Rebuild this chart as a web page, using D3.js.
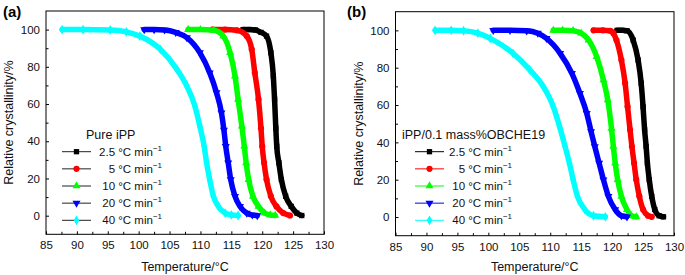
<!DOCTYPE html>
<html><head><meta charset="utf-8">
<script src="https://cdn.jsdelivr.net/npm/d3@7"></script>
<style>
body{margin:0;background:#fff;}
svg{display:block;font-family:"Liberation Sans",Arial,Helvetica,sans-serif;}
</style></head>
<body><svg id="c" width="685" height="275"></svg>
<script>
// ---- data (Temperature °C, relative crystallinity %) ----
const rates = ["2.5", "5", "10", "20", "40"];
const colors = ["#000000", "#ff0000", "#00ff00", "#0000ff", "#00ffff"];
const symbols = ["square", "circle", "triangle", "triangleDown", "diamond"];
const xTicks = [85, 90, 95, 100, 105, 110, 115, 120, 125, 130];
const yTicks = [0, 20, 40, 60, 80, 100];

const pure_2_5 = [[116.9,100],[118.0,100],[118.9,99.8],[119.8,98.5],[120.7,96.5],[121.4,87.6],[121.8,75.0],[122.0,62.5],[122.2,47],[122.35,37.3],[122.7,28.4],[123.1,19.4],[123.8,10.4],[124.7,5.0],[125.6,1.4],[126.4,0.1]];
const pure_5   = [[111.9,100],[114.0,100],[115.9,99.6],[117.5,96.5],[118.3,89.4],[118.8,76.8],[119.4,62.5],[119.8,47],[120.0,37.3],[120.3,28.4],[120.7,19.4],[121.4,10.4],[122.3,5.0],[123.4,1.4],[124.5,0.1]];
const pure_10  = [[108.0,100],[110.0,100],[112.2,99.6],[113.7,96.5],[114.8,87.6],[115.6,75.0],[116.1,62.5],[116.7,48.1],[117.1,37.3],[117.4,28.4],[117.8,19.4],[118.5,10.4],[119.4,5.0],[120.4,1.4],[121.3,0.4],[122.1,0.1]];
const pure_20  = [[100.9,100],[102.5,100],[104.2,99.8],[106.0,98.5],[107.8,95.7],[109.9,87.6],[111.5,76.8],[112.6,66.1],[113.4,55.3],[113.8,46],[114.1,37.3],[114.5,28.4],[114.9,19.4],[115.6,10.4],[116.4,5.0],[117.5,1.4],[118.4,0.4],[119.2,0.1]];
const pure_40  = [[87.6,100],[91.0,100],[95.4,99.8],[98.0,98.8],[100.2,96.5],[103.5,89.4],[106.2,78.6],[107.8,69.6],[109.1,58.9],[109.9,48.1],[110.6,37.3],[111.0,28.4],[111.5,19.4],[112.1,10.4],[112.9,5.0],[114.0,1.4],[115.0,0.4],[116.1,0.1]];

const obc_2_5 = [[120.8,100],[121.6,100],[122.4,99.8],[123.4,94.8],[124.2,84.1],[124.7,71.7],[125.0,59.1],[125.25,46.7],[125.5,37.8],[125.7,28.9],[126.0,20.0],[126.4,11.1],[126.9,4.0],[127.6,0.7],[128.3,0.1]];
const obc_5   = [[117.0,100],[118.5,100],[119.7,99.8],[120.2,98.5],[120.7,94.8],[121.5,84.1],[122.1,71.7],[122.5,59.1],[122.9,46.7],[123.2,37.8],[123.55,28.9],[123.9,20.0],[124.4,11.1],[125.0,4.0],[125.8,0.7],[126.4,0.1]];
const obc_10  = [[110.5,100],[112.0,100],[113.7,99.8],[115.0,98.5],[116.2,94.8],[117.5,85.9],[118.6,73.4],[119.3,62.7],[119.9,47.5],[120.2,37.8],[120.5,28.9],[120.9,20.0],[121.5,11.1],[122.4,4.0],[123.1,0.7],[123.9,0.1]];
const obc_20  = [[100.8,100],[103.5,100],[106.2,99.8],[108.0,98.5],[109.4,95.7],[111.6,87.7],[113.5,77.0],[114.8,66.3],[115.9,55.6],[116.6,45.8],[117.2,37.8],[117.9,28.9],[118.6,20.0],[119.4,11.1],[120.5,4.0],[121.5,0.7],[122.4,0.1]];
const obc_40  = [[91.4,100],[94.0,100],[96.0,99.8],[98.3,98.5],[100.3,95.7],[104.0,87.7],[106.7,78.8],[108.9,69.8],[110.5,59.1],[111.6,47.5],[112.4,37.8],[113.1,28.9],[113.7,20.0],[114.4,11.1],[115.6,4.0],[117.0,0.7],[118.9,0.1]];

const panels = [
  {tag:"(a)", title:"Pure iPP", series:[pure_2_5,pure_5,pure_10,pure_20,pure_40],
   box:{l:46,r:324,t:11,b:234.3}, tagX:3, legX:62, legTitleX:86, legTextX:162, legLineColored:false},
  {tag:"(b)", title:"iPP/0.1 mass%OBCHE19", series:[obc_2_5,obc_5,obc_10,obc_20,obc_40],
   box:{l:395.5,r:674,t:11.7,b:235.7}, tagX:347, legX:415, legTitleX:402, legTextX:512, legLineColored:true}
];

const svg = d3.select("#c");
const symMap = {square:d3.symbolSquare, circle:d3.symbolCircle, triangle:d3.symbolTriangle, triangleDown:d3.symbolTriangle, diamond:d3.symbolDiamond};
const symSize = t => t==="circle" ? 30 : 28;

panels.forEach(P=>{
  const b = P.box;
  const x = d3.scaleLinear().domain([85,130]).range([b.l,b.r]);
  const y = d3.scaleLinear().domain([-10,110]).range([b.b,b.t]);
  const g = svg.append("g");

  // frame
  g.append("rect").attr("x",b.l).attr("y",b.t).attr("width",b.r-b.l).attr("height",b.b-b.t)
    .attr("fill","none").attr("stroke","#000").attr("stroke-width",1);

  // x axis (ticks inward)
  const xa = g.append("g").attr("transform",`translate(0,${b.b})`)
    .call(d3.axisBottom(x).tickValues(xTicks).tickSize(-3).tickPadding(7).tickFormat(d3.format("d")));
  xa.select(".domain").remove();
  xa.selectAll("text").attr("font-size",11.5).attr("font-family","Liberation Sans, Arial, sans-serif").attr("fill","#111");
  const xm = g.append("g").attr("transform",`translate(0,${b.b})`)
    .call(d3.axisBottom(x).tickValues(d3.range(87.5,130,5)).tickSize(-2.5).tickFormat(""));
  xm.select(".domain").remove();

  // y axis
  const ya = g.append("g").attr("transform",`translate(${b.l},0)`)
    .call(d3.axisLeft(y).tickValues(yTicks).tickSize(-3).tickPadding(6).tickFormat(d3.format("d")));
  ya.select(".domain").remove();
  ya.selectAll("text").attr("font-size",11.5).attr("font-family","Liberation Sans, Arial, sans-serif").attr("fill","#111");
  const ym = g.append("g").attr("transform",`translate(${b.l},0)`)
    .call(d3.axisLeft(y).tickValues([10,30,50,70,90]).tickSize(-2.5).tickFormat(""));
  ym.select(".domain").remove();

  // axis titles
  g.append("text").attr("x",(b.l+b.r)/2).attr("y",271).attr("text-anchor","middle")
    .attr("font-size",12.5).attr("fill","#111").text("Temperature/°C");
  g.append("text").attr("transform",`translate(${b.l-33},${(b.t+b.b)/2}) rotate(-90)`)
    .attr("text-anchor","middle").attr("font-size",12.5).attr("fill","#111").text("Relative crystallinity/%");

  // panel tag
  g.append("text").attr("x",P.tagX).attr("y",17).attr("font-size",15).attr("font-weight","bold").text(P.tag);

  // curves
  const line = d3.line().x(d=>x(d[0])).y(d=>y(d[1])).curve(d3.curveMonotoneX);
  P.series.forEach((s,i)=>{
    g.append("path").datum(s).attr("d",line).attr("fill","none")
      .attr("stroke",colors[i]).attr("stroke-width",5.5).attr("stroke-linejoin","round").attr("stroke-linecap","round");
    g.selectAll(null).data(s).enter().append("path")
      .attr("d", d3.symbol().type(symMap[symbols[i]]).size(symSize(symbols[i]))())
      .attr("transform", d=>`translate(${x(d[0])},${y(d[1])})${symbols[i]==="triangleDown"?" rotate(180)":""}`)
      .attr("fill",colors[i]);
  });

  // legend
  g.append("text").attr("x",P.legTitleX).attr("y",139).attr("font-size",12.5).attr("fill","#111").text(P.title);
  const rowY = d3.scaleLinear().domain([0,4]).range([151.7,220.3]);
  rates.forEach((r,i)=>{
    const yy = rowY(i);
    g.append("line").attr("x1",P.legX).attr("x2",P.legX+29).attr("y1",yy).attr("y2",yy)
      .attr("stroke", P.legLineColored ? colors[i] : "#222").attr("stroke-width",1);
    g.append("path").attr("d", d3.symbol().type(symMap[symbols[i]]).size(symSize(symbols[i]))())
      .attr("transform",`translate(${P.legX+14.5},${yy})${symbols[i]==="triangleDown"?" rotate(180)":""}`)
      .attr("fill",colors[i]);
    const t = g.append("text").attr("x",P.legTextX).attr("y",yy+4).attr("text-anchor","end")
      .attr("font-size",11.5).attr("fill","#111");
    t.append("tspan").text(`${r} °C min`);
    t.append("tspan").attr("dy",-5).attr("font-size",8).text("−1");
  });
});
</script></body></html>
